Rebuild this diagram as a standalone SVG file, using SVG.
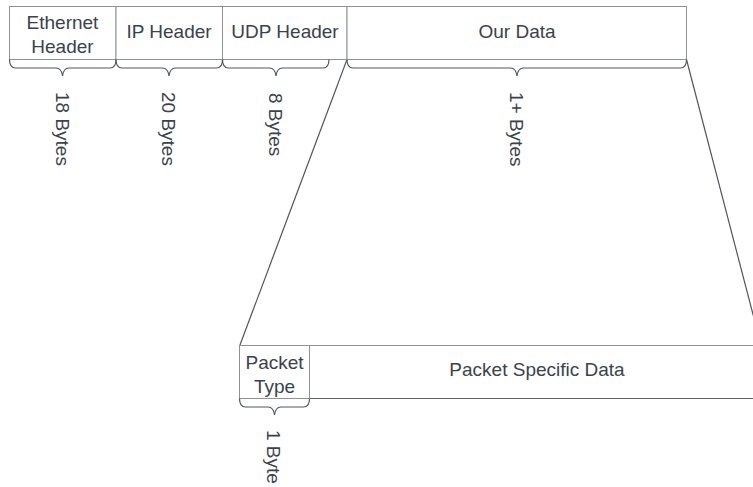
<svg xmlns="http://www.w3.org/2000/svg" width="753" height="487" viewBox="0 0 753 487">
  <style>
    .box { fill: #ffffff; stroke: #8e9297; stroke-width: 1; }
    .brace { fill: none; stroke: #50565e; stroke-width: 1.2; }
    .link { fill: none; stroke: #50565e; stroke-width: 1.2; }
    .lbl { font-family: "Liberation Sans", Arial, sans-serif; font-size: 19px; fill: #3a424c; text-anchor: middle; }
    .size { font-family: "Liberation Sans", Arial, sans-serif; font-size: 19px; fill: #3a424c; text-anchor: start; }
  </style>
  <rect width="753" height="487" fill="#ffffff"/>

  <!-- expansion lines from the payload down to its breakdown -->
  <g id="connectors">
    <line class="link" x1="347" y1="59.5" x2="240" y2="345"/>
    <line class="link" x1="686.5" y1="59.5" x2="761" y2="345"/>
  </g>

  <!-- outer packet layout -->
  <g id="ethernet-header">
    <rect class="box" x="9.5" y="6.5" width="106.5" height="53"/>
    <text class="lbl" x="62.5" y="29">Ethernet</text>
    <text class="lbl" x="62.5" y="53">Header</text>
    <path class="brace" d="M9.5,59.5 Q9.5,68 15.5,68 L56,68 Q61.5,68 62.5,76 Q63.5,68 69,68 L110,68 Q116,68 116,59.5"/>
    <text class="size" transform="translate(62.5,92) rotate(90)" y="7">18 Bytes</text>
  </g>

  <g id="ip-header">
    <rect class="box" x="116" y="6.5" width="106.5" height="53"/>
    <text class="lbl" x="169" y="37.5">IP Header</text>
    <path class="brace" d="M116,59.5 Q116,68 122,68 L162.5,68 Q168,68 169,76 Q170,68 175.5,68 L216.5,68 Q222.5,68 222.5,59.5"/>
    <text class="size" transform="translate(169,92) rotate(90)" y="7">20 Bytes</text>
  </g>

  <g id="udp-header">
    <rect class="box" x="222.5" y="6.5" width="124.5" height="53"/>
    <text class="lbl" x="285" y="37.5">UDP Header</text>
    <path class="brace" d="M222.5,59.5 Q222.5,68 228.5,68 L269.5,68 Q275,68 276,76 Q277,68 282.5,68 L323,68 Q329,68 329,59.5"/>
    <text class="size" transform="translate(276,93) rotate(90)" y="7">8 Bytes</text>
  </g>

  <g id="our-data">
    <rect class="box" x="347" y="6.5" width="339.5" height="53"/>
    <text class="lbl" x="517" y="38">Our Data</text>
    <path class="brace" d="M347,59.5 Q347,68 353,68 L510.5,68 Q516,68 517,76 Q518,68 523.5,68 L680.5,68 Q686.5,68 686.5,59.5"/>
    <text class="size" transform="translate(517,92) rotate(90)" y="7">1+ Bytes</text>
  </g>

  <!-- payload breakdown -->
  <g id="packet-type">
    <rect class="box" x="239.5" y="345.5" width="70" height="53"/>
    <text class="lbl" x="274.5" y="368.5">Packet</text>
    <text class="lbl" x="274.5" y="393">Type</text>
    <path class="brace" d="M239.5,398.5 Q239.5,407 245.5,407 L268,407 Q273.5,407 274.5,415 Q275.5,407 281,407 L303.5,407 Q309.5,407 309.5,398.5"/>
    <text class="size" transform="translate(274,430) rotate(90)" y="7">1 Byte</text>
  </g>

  <g id="packet-specific-data">
    <rect class="box" x="309.5" y="345.5" width="460" height="53"/>
    <line x1="309.5" y1="398.5" x2="753" y2="398.5" stroke="#5f656d" stroke-width="1"/>
    <text class="lbl" x="537" y="376">Packet Specific Data</text>
  </g>
</svg>
